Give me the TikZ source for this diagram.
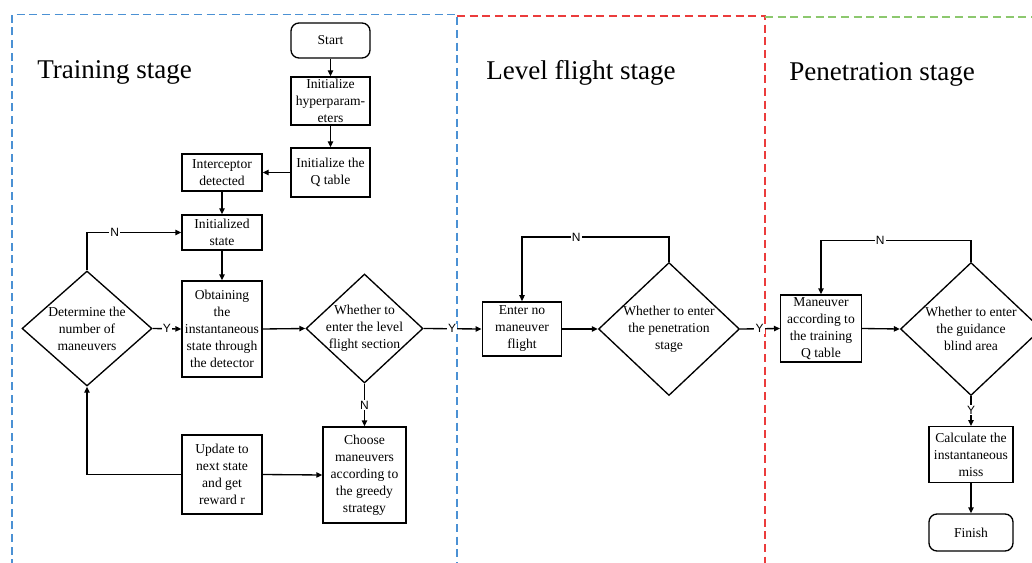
\documentclass[tikz,border=0pt]{standalone}
\usepackage{fontspec}
\setmainfont{Liberation Serif}
\setsansfont{Liberation Sans}
\usetikzlibrary{shapes.geometric,arrows.meta}
\definecolor{pblue}{RGB}{75,145,212}
\definecolor{pred}{RGB}{235,60,60}
\definecolor{pgreen}{RGB}{140,200,110}
\begin{document}
\begin{tikzpicture}[x=0.75pt,y=-0.75pt,
 box/.style={draw,line width=1pt,rectangle,align=center,inner sep=0pt,font=\fontsize{10.2}{12.75}\selectfont},
 term/.style={box,rounded corners=6pt},
 dia/.style={draw,line width=1pt,diamond,inner sep=0pt},
 dtext/.style={align=center,font=\fontsize{10.2}{12.75}\selectfont,inner sep=0pt},
 arr/.style={line width=1pt,-{Triangle[length=4.5pt,width=4pt]}},
 yn/.style={font=\sffamily\fontsize{9}{10}\selectfont,fill=white,inner sep=0.8pt},
 panel/.style={line width=0.8pt,dash pattern=on 6pt off 3.5pt},
 title/.style={font=\fontsize{20.3}{24}\selectfont,anchor=base west,inner sep=0pt}]
\useasboundingbox (0,0) rectangle (1032,563);
\clip (0,0) rectangle (1032,563);
\fill[white] (0,0) rectangle (1032,563);
% panels
\draw[panel,pblue] (12,580) -- (12,14.5) -- (457,14.5) -- (457,580);
\draw[panel,pred] (457,16) -- (765,16) -- (765,580);
\draw[panel,pgreen] (765,17) -- (1045,17);
% titles
\node[title] (t1) at (37,79) {Training stage};
\node[title] (t2) at (486,80) {Level flight stage};
\node[title] (t3) at (789,80.7) {Penetration stage};
% training nodes
\node[term,minimum width=59.25pt,minimum height=26.25pt] (start) at (330.5,40.5) {Start};
\node[box,minimum width=59.25pt,minimum height=36pt] (hyp) at (330.5,101) {Initialize\\hyperparam-\\eters};
\node[box,minimum width=59.25pt,minimum height=36.75pt] (qt) at (330.5,172.5) {Initialize the\\Q table};
\node[box,minimum width=60pt,minimum height=27.75pt] (int) at (222,172.5) {Interceptor\\detected};
\node[box,minimum width=60pt,minimum height=26.25pt] (ini) at (222,232.5) {Initialized\\state};
\node[box,minimum width=60pt,minimum height=72pt] (obt) at (222,329) {Obtaining\\the\\instantaneous\\state through\\the detector};
\node[box,minimum width=60pt,minimum height=59.25pt] (upd) at (222,474.5) {Update to\\next state\\and get\\reward r};
\node[box,minimum width=62.25pt,minimum height=72pt] (cho) at (364.5,475) {Choose\\maneuvers\\according to\\the greedy\\strategy};
\node[dia,minimum width=97.5pt,minimum height=86.25pt,label={[dtext]center:{Determine the\\number of\\maneuvers}}] (det) at (87,328.5) {};
\node[dia,minimum width=87.75pt,minimum height=81.75pt,label={[dtext]center:{Whether to\\enter the level\\flight section}}] (wl) at (364.5,328.5) {};
% level flight nodes
\node[box,minimum width=59.6pt,minimum height=40.7pt] (ent) at (522,329) {Enter no\\maneuver\\flight};
\node[dia,minimum width=105.75pt,minimum height=99.75pt,label={[dtext]center:{Whether to enter\\the penetration\\stage}}] (wp) at (669,329) {};
% penetration nodes
\node[box,minimum width=60.5pt,minimum height=50.25pt] (man) at (821,328.5) {Maneuver\\according to\\the training\\Q table};
\node[dia,minimum width=105.75pt,minimum height=99.75pt,label={[dtext]center:{Whether to enter\\the guidance\\blind area}}] (wg) at (971,329) {};
\node[box,minimum width=62.8pt,minimum height=42pt] (cal) at (971,454.7) {Calculate the\\instantaneous\\miss};
\node[term,minimum width=63pt,minimum height=27.75pt] (fin) at (971,532.5) {Finish};
% connectors
\draw[arr] (start) -- (hyp);
\draw[arr] (hyp) -- (qt);
\draw[arr] (qt) -- (int);
\draw[arr] (int) -- (ini);
\draw[arr] (ini) -- (obt);
\draw[arr] (det.east) -- node[yn] {Y} (obt.west);
\draw[arr] (obt.east) -- (wl.west);
\draw[arr] (wl.south) -- node[yn] {N} (cho.north);
\draw[arr] (upd.east) -- (cho.west);
\draw[arr] (upd.west) -| (det.south);
\draw[arr] (det.north) |- node[yn,pos=0.647] {N} (ini.west);
\draw[arr] (wl.east) -- node[yn,pos=0.49] {Y} (ent.west);
\draw[arr] (ent.east) -- (wp.west);
\draw[arr] (wp.north) -- ++(0,-24.7) -| node[yn,pos=0.316] {N} (ent.north);
\draw[arr] (wp.east) -- node[yn,pos=0.486] {Y} (man.west);
\draw[arr] (man.east) -- (wg.west);
\draw[arr] (wg.north) -- ++(0,-21) -| node[yn,pos=0.303] {N} (man.north);
\draw[arr] (wg.south) -- node[yn,pos=0.46] {Y} (cal.north);
\draw[arr] (cal) -- (fin);
\end{tikzpicture}
\end{document}
